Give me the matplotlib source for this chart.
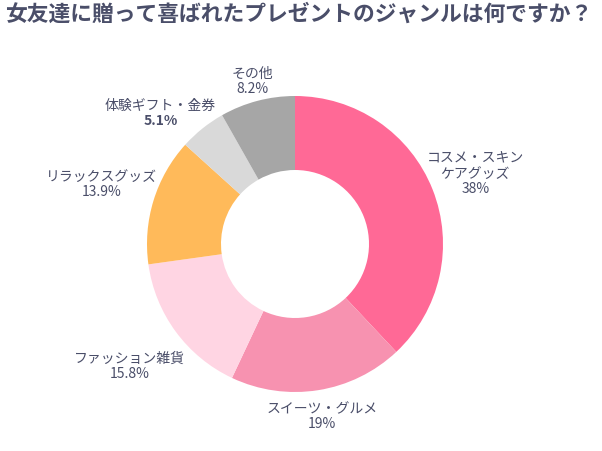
import numpy as np
import matplotlib.pyplot as plt

plt.rcParams['font.family'] = ['Noto Sans CJK JP', 'DejaVu Sans']

title = '女友達に贈って喜ばれたプレゼントのジャンルは何ですか？'
labels = ['コスメ・スキン\nケアグッズ', 'スイーツ・グルメ', 'ファッション雑貨',
          'リラックスグッズ', '体験ギフト・金券', 'その他']
values = [38, 19, 15.8, 13.9, 5.1, 8.2]
pct_text = ['38%', '19%', '15.8%', '13.9%', '5.1%', '8.2%']
pct_weight = ['normal', 'normal', 'normal', 'normal', 'bold', 'normal']
colors = ['#FF6996', '#F792B0', '#FFD5E3', '#FFBA5A', '#D9D9D9', '#A6A6A6']
# label placement: distance from the centre (in radii) and angle nudge (deg)
label_dist = [1.31, 1.18, 1.39, 1.37, 1.27, 1.14]
label_nudge = [0, 0, 0, 0, 7, 0]

text_color = '#4A4E69'

W, H = 602, 451
fig = plt.figure(figsize=(W / 100, H / 100), dpi=100)
cx, cy, R = 295, 244, 148
ax = fig.add_axes([(cx - R) / W, (H - cy - R) / H, 2 * R / W, 2 * R / H])

wedges, _ = ax.pie(values, colors=colors, startangle=90, counterclock=False,
                   radius=1, wedgeprops=dict(width=0.5, linewidth=0))
ax.set_xlim(-1, 1)
ax.set_ylim(-1, 1)
ax.set_aspect('equal')
ax.axis('off')

line_pt = 16 * 72 / 100  # 16 px between lines
total = sum(values)
start = 90.0
for i in range(len(values)):
    mid = start - values[i] / total * 360 / 2 + label_nudge[i]
    start -= values[i] / total * 360
    a = np.deg2rad(mid)
    x = label_dist[i] * np.cos(a)
    y = label_dist[i] * np.sin(a)
    n = labels[i].count('\n') + 2
    # name lines sit above the percentage line
    ax.annotate(labels[i], (x, y), xytext=(0, -(n / 2 - 1) * line_pt),
                textcoords='offset points', ha='center', va='bottom',
                fontsize=10, color=text_color, linespacing=1.15,
                annotation_clip=False)
    ax.annotate(pct_text[i], (x, y), xytext=(0, -(n / 2 - 0.5) * line_pt),
                textcoords='offset points', ha='center', va='center',
                fontsize=10, color=text_color, fontweight=pct_weight[i],
                annotation_clip=False)

fig.text(5 / W, 1 - 14 / H, title, ha='left', va='center', fontsize=15.7,
         fontweight='bold', color=text_color)

fig.savefig('out.png', dpi=100)
